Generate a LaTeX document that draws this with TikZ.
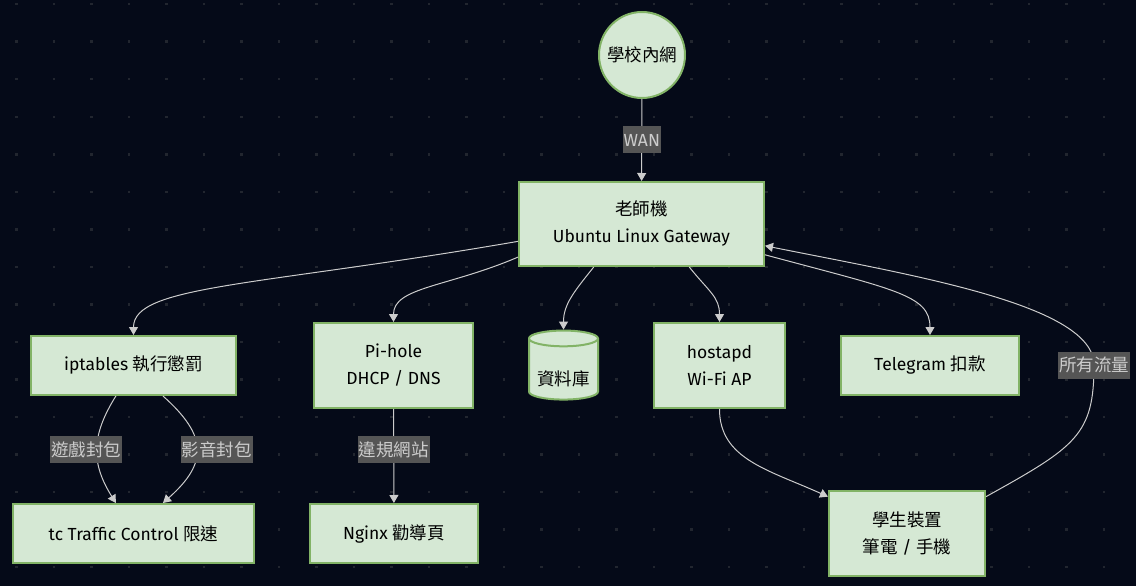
\documentclass[tikz,border=0pt]{standalone}
\usepackage{fontspec}
\setmainfont{Fira Sans}
\newfontfamily\cjk{Noto Sans CJK TC}
\usepackage{tikz}
\usetikzlibrary{arrows.meta, shapes.geometric, positioning}

\definecolor{bgnavy}{HTML}{050A18}
\definecolor{dotgray}{HTML}{22262F}
\definecolor{leaf}{HTML}{D5E8D4}
\definecolor{leafline}{HTML}{82B366}
\definecolor{wiregray}{HTML}{CCCCCC}
\definecolor{tagfill}{HTML}{555555}
\definecolor{tagtext}{HTML}{CCCCCC}

\begin{document}
\begin{tikzpicture}[x=1pt, y=-1pt, >={Triangle[length=8pt,width=9pt]},
    font=\fontsize{17.5}{27}\selectfont,
    gbox/.style={draw=leafline, fill=leaf, line width=2pt, rectangle, inner sep=0pt, align=center, text=black},
    dbase/.style={draw=leafline, fill=leaf, line width=2pt, cylinder, shape border rotate=90, aspect=0.3, inner sep=0pt, minimum width=69pt, minimum height=69pt, text=black, text height=34pt, text depth=2pt},
    lbl/.style={fill=tagfill, text=tagtext, inner xsep=1pt, inner ysep=0pt, minimum height=27pt},
    wire/.style={draw=wiregray, line width=1pt}]

            \fill[bgnavy] (0,0) rectangle (1136,586);
            \foreach \i in {0,...,29}
                \foreach \j in {0,...,15}
                    \fill[dotgray] ({15+37.5*\i},{3+37.5*\j}) rectangle +(2.5,2.5);

            \node[gbox, circle, minimum size=86pt] (inet) at (642,55) {\cjk 學校內網};
            \node[gbox, minimum width=245pt, minimum height=84pt] (gw) at (641.5,224) {{\cjk 老師機}\\Ubuntu Linux Gateway};
            \node[gbox, minimum width=205pt, minimum height=59pt] (ipt) at (133.5,365.5) {iptables {\cjk 執行懲罰}};
            \node[gbox, minimum width=159pt, minimum height=85pt] (pih) at (393.5,365.5) {Pi-hole\\DHCP / DNS};
            \node[dbase] (db) at (563.5,369.5) {\cjk 資料庫};
            \node[gbox, minimum width=131pt, minimum height=85pt] (ap) at (719.5,365.5) {hostapd\\Wi-Fi AP};
            \node[gbox, minimum width=178pt, minimum height=59pt] (tg) at (930,365.5) {Telegram {\cjk 扣款}};
            \node[gbox, minimum width=241pt, minimum height=59pt] (tc) at (133.5,533.5) {tc Traffic Control {\cjk 限速}};
            \node[gbox, minimum width=168pt, minimum height=59pt] (ngx) at (394,533.5) {Nginx {\cjk 勸導頁}};
            \node[gbox, minimum width=156pt, minimum height=85pt] (dev) at (907,533.5) {{\cjk 學生裝置}\\{\cjk 筆電} / {\cjk 手機}};

            \draw[wire, ->] (inet) -- node[lbl] {WAN} (gw);
            \draw[wire, ->] (gw.188) .. controls +(-260,45) and +(0,-50) .. (ipt.north);
            \draw[wire, ->] (gw.195) .. controls +(-70,30) and +(0,-35) .. (pih.north);
            \draw[wire, ->] (gw.222) .. controls +(-20,25) and +(0,-25) .. (db.north);
            \draw[wire, ->] (gw.318) .. controls +(20,25) and +(0,-25) .. (ap.north);
            \draw[wire, ->] (gw.346) .. controls +(130,35) and +(0,-40) .. (tg.north);
            \draw[wire, ->] (ipt.240) .. controls +(-25,40) and +(-25,-40) .. node[lbl, xshift=-11pt] {\cjk 遊戲封包} (tc.120);
            \draw[wire, ->] (ipt.314) .. controls +(45,40) and +(45,-40) .. node[lbl, xshift=20pt] {\cjk 影音封包} (tc.46);
            \draw[wire, ->] (pih) -- node[lbl, pos=.43] {\cjk 違規網站} (ngx);
            \draw[wire, ->] (ap.south) .. controls +(0,50) and +(-60,-27) .. (dev.155);
            \draw[wire, ->] (dev.25) .. controls +(90,-50) and +(0,70) .. (1094,365) node[lbl] {\cjk 所有流量}
                .. controls +(0,-60) and +(150,30) .. (gw.350);

\end{tikzpicture}
\end{document}
